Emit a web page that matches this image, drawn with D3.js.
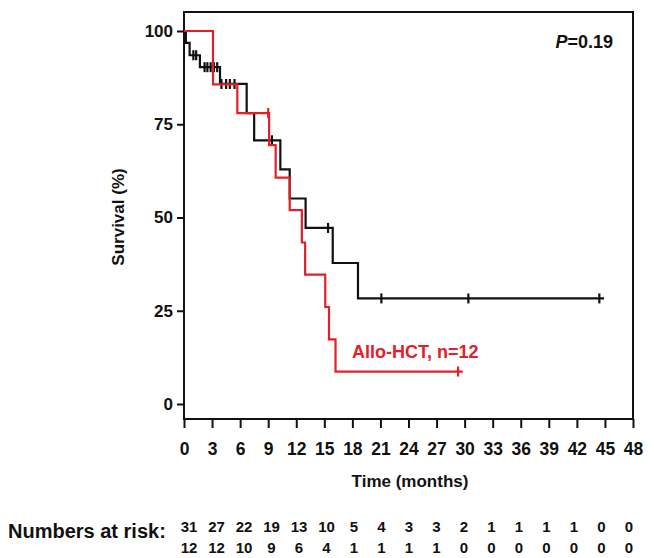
<!DOCTYPE html>
<html><head><meta charset="utf-8">
<script src="https://cdn.jsdelivr.net/npm/d3@7"></script>
<style>html,body{margin:0;padding:0;background:#fff;} svg{display:block;font-family:"Liberation Sans",Arial,sans-serif;}</style>
</head><body>
<svg id="c" width="654" height="558"></svg>
<script>
// ---- data ----
const xTicks = [0,3,6,9,12,15,18,21,24,27,30,33,36,39,42,45,48];
const yTicks = [0,25,50,75,100];
const blackTimes = [0, 0.2, 0.6, 1.7, 3.85, 6.7, 7.5, 10.3, 11.3, 13.0, 15.9, 18.6, 44.9];
const blackSurv  = [100, 96.8, 93.5, 90.3, 85.8, 78.0, 70.7, 62.9, 55.1, 47.2, 37.8, 28.3, 28.3];
const blackCensor = [1.0, 1.3, 2.2, 2.5, 2.85, 3.2, 3.55, 4.0, 4.5, 4.9, 5.4, 9.4, 15.4, 21.1, 30.4, 44.4];
const redTimes = [0, 3.1, 5.7, 9.1, 9.8, 11.3, 12.6, 12.95, 15.1, 15.5, 16.2, 29.8];
const redSurv  = [100, 85.7, 78.0, 69.4, 60.7, 52.0, 43.3, 34.7, 26.0, 17.3, 8.7, 8.7];
const redCensor = [9.0, 29.3];
const riskBlack = [31,27,22,19,13,10,5,4,3,3,2,1,1,1,1,0,0];
const riskRed   = [12,12,10,9,6,4,1,1,1,1,0,0,0,0,0,0,0];
const pLabel = "0.19";
const redLabel = "Allo-HCT, n=12";

// ---- layout ----
const svg = d3.select("#c");
const x = d3.scaleLinear().domain([0,48]).range([184,633]);
const y = d3.scaleLinear().domain([0,100]).range([404,31]);
const frameTop = 12, frameBottom = 419;
const black = "#111", red = "#e3202a";

// frame
svg.append("rect").attr("x", x(0)).attr("y", frameTop).attr("width", x(48)-x(0)).attr("height", frameBottom-frameTop)
  .attr("fill","none").attr("stroke",black).attr("stroke-width",2);

// y axis
const yAxis = d3.axisLeft(y).tickValues(yTicks).tickSize(7).tickPadding(4);
const gy = svg.append("g").attr("transform",`translate(${x(0)},0)`).call(yAxis);
gy.select(".domain").remove();
gy.selectAll("line").attr("stroke",black).attr("stroke-width",2);
gy.selectAll("text").attr("font-size",17).attr("font-weight","bold").attr("fill",black);

// x axis
const xAxis = d3.axisBottom(x).tickValues(xTicks).tickSize(9).tickPadding(15);
const gx = svg.append("g").attr("transform",`translate(0,${frameBottom})`).call(xAxis);
gx.select(".domain").remove();
gx.selectAll("line").attr("stroke",black).attr("stroke-width",2);
gx.selectAll("text").attr("font-size",17.5).attr("font-weight","bold").attr("fill",black);

// axis titles
svg.append("text").attr("x",410).attr("y",487).attr("text-anchor","middle")
  .attr("font-size",17).attr("font-weight","bold").attr("fill",black).text("Time (months)");
svg.append("text").attr("transform",`translate(124,217) rotate(-90)`).attr("text-anchor","middle")
  .attr("font-size",17).attr("font-weight","bold").attr("fill",black).text("Survival (%)");

// curves
function stepSurv(times, surv, t){ let s = surv[0]; for(let i=0;i<times.length;i++){ if(times[i]<=t) s=surv[i]; } return s; }
const line = d3.line().x(d=>x(d[0])).y(d=>y(d[1])).curve(d3.curveStepAfter);
function drawCurve(times, surv, censor, color){
  const pts = times.map((t,i)=>[t,surv[i]]);
  svg.append("path").datum(pts).attr("d",line).attr("fill","none").attr("stroke",color).attr("stroke-width",2.2);
  svg.append("g").selectAll("line").data(censor).join("line")
    .attr("x1",d=>x(d)).attr("x2",d=>x(d))
    .attr("y1",d=>y(stepSurv(times,surv,d))-5).attr("y2",d=>y(stepSurv(times,surv,d))+5)
    .attr("stroke",color).attr("stroke-width",2.2);
}
drawCurve(blackTimes, blackSurv, blackCensor, black);
drawCurve(redTimes, redSurv, redCensor, red);

// annotations
const pt = svg.append("text").attr("x",613).attr("y",48).attr("text-anchor","end")
  .attr("font-size",18).attr("font-weight","bold").attr("fill",black);
pt.append("tspan").attr("font-style","italic").text("P");
pt.append("tspan").text("=" + pLabel);
svg.append("text").attr("x",352).attr("y",358).attr("font-size",18).attr("font-weight","bold").attr("fill",red).text(redLabel);

// numbers at risk
const rx = d3.scaleLinear().domain([0,16]).range([189,629]);
svg.append("text").attr("x",8).attr("y",538).attr("font-size",20).attr("font-weight","bold").attr("fill",black).text("Numbers at risk:");
svg.append("g").selectAll("text").data(riskBlack).join("text")
  .attr("x",(d,i)=>rx(i)).attr("y",532).attr("text-anchor","middle")
  .attr("font-size",15).attr("font-weight","bold").attr("fill",black).text(d=>d);
svg.append("g").selectAll("text").data(riskRed).join("text")
  .attr("x",(d,i)=>rx(i)).attr("y",553).attr("text-anchor","middle")
  .attr("font-size",15).attr("font-weight","bold").attr("fill",black).text(d=>d);
</script>
</body></html>
